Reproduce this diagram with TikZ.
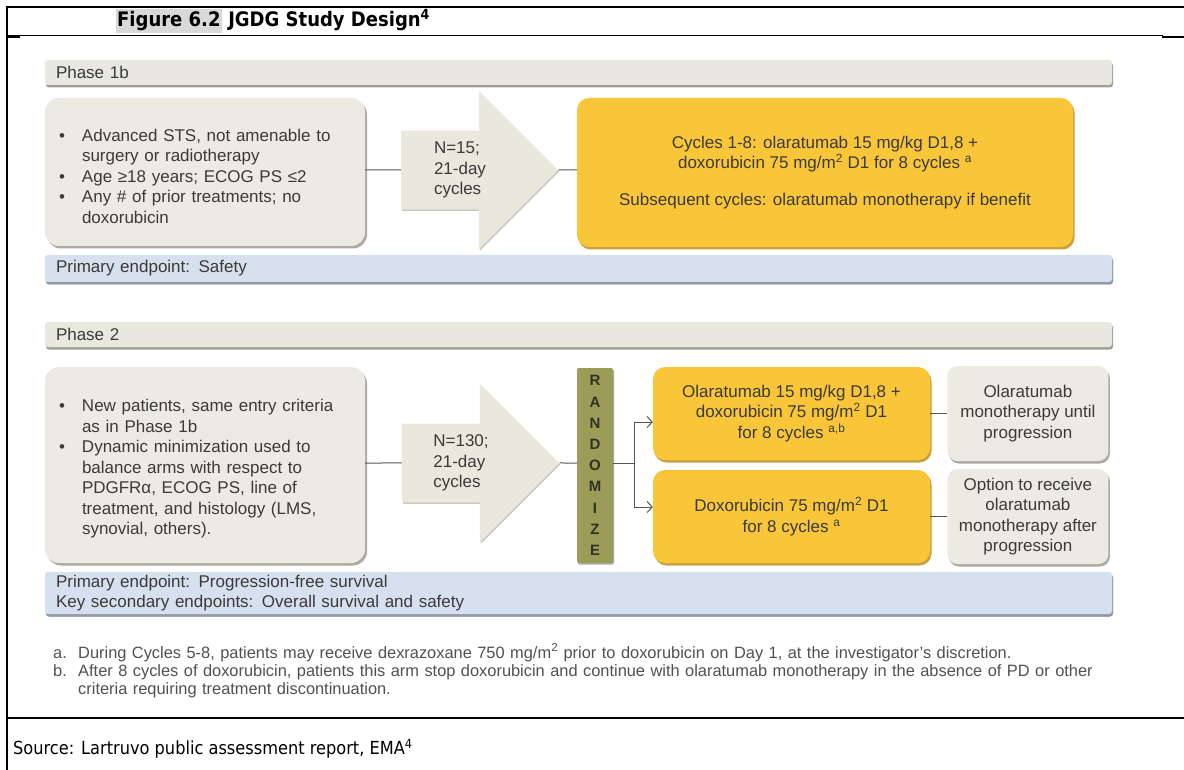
\documentclass[tikz,border=0pt]{standalone}
\usepackage{fontspec}
\setmainfont{Liberation Sans}
\newfontfamily\capfont[FakeStretch=0.9]{DejaVu Sans}
\usepackage{tikz}
\usetikzlibrary{arrows.meta,positioning,shapes.arrows,shadows}
\definecolor{PhaseGray}{RGB}{233,232,224}
\definecolor{BoxBeige}{RGB}{236,234,226}
\definecolor{ArrowBeige}{RGB}{234,232,220}
\definecolor{ShadeGray}{RGB}{150,149,140}
\definecolor{ArmYellow}{RGB}{249,198,58}
\definecolor{ArmShade}{RGB}{196,150,40}
\definecolor{RandOlive}{RGB}{156,155,88}
\definecolor{RandText}{RGB}{50,50,36}
\definecolor{EndBlue}{RGB}{214,224,238}
\definecolor{EndShade}{RGB}{142,154,174}
\definecolor{TxtGray}{RGB}{58,58,58}
\definecolor{NoteGray}{RGB}{80,80,80}
\definecolor{LinkGray}{RGB}{85,85,85}
\definecolor{HiliteGray}{RGB}{217,217,217}

\newcommand{\critem}[1]{\par\hangindent=24pt\hangafter=1\noindent\makebox[24pt][l]{\hspace{1pt}\textbullet}#1\par}
\newcommand{\fnitem}[2]{\par\hangindent=25pt\hangafter=1\noindent\makebox[25pt][l]{#1}#2\par}

\begin{document}
\begin{tikzpicture}[x=1pt, y=-1pt,
    bar/.style={rectangle, rounded corners=3pt, fill=PhaseGray, text=TxtGray,
        font=\fontsize{17}{20.5}\selectfont, text width=1045pt, inner xsep=11pt,
        inner ysep=0pt, minimum height=25pt, align=left,
        drop shadow={shadow xshift=1pt, shadow yshift=-2.5pt, fill=ShadeGray, opacity=0.9}},
    endbar/.style={bar, fill=EndBlue,
        drop shadow={shadow xshift=1pt, shadow yshift=-2.5pt, fill=EndShade, opacity=0.9}},
    crit/.style={rectangle, rounded corners=14pt, fill=BoxBeige, text=TxtGray,
        font=\fontsize{17}{20.5}\selectfont, text width=294pt, inner xsep=13pt,
        minimum width=320pt, align=left,
        drop shadow={shadow xshift=2pt, shadow yshift=-2.5pt, fill=ShadeGray, opacity=0.8}},
    cyclearrow/.style={single arrow, fill=ArrowBeige, text=TxtGray, align=left,
        font=\fontsize{17}{20.5}\selectfont, inner xsep=3pt, inner ysep=11pt,
        minimum height=157pt, single arrow head extend=40pt,
        drop shadow={shadow xshift=1pt, shadow yshift=-1.5pt, fill=ShadeGray, opacity=0.5}},
    arm/.style={rectangle, rounded corners=12pt, fill=ArmYellow, text=TxtGray, align=center,
        font=\fontsize{17}{20.5}\selectfont, inner sep=3pt,
        drop shadow={shadow xshift=1.5pt, shadow yshift=-2.5pt, fill=ArmShade, opacity=0.9}},
    post/.style={rectangle, rounded corners=10pt, fill=BoxBeige, text=TxtGray, align=center,
        font=\fontsize{17}{20.5}\selectfont, inner sep=3pt, minimum width=161pt, minimum height=95pt,
        drop shadow={shadow xshift=1.5pt, shadow yshift=-2.5pt, fill=ShadeGray, opacity=0.8}},
    rand/.style={rectangle, rounded corners=2pt, fill=RandOlive, text=RandText, align=center,
        font=\fontsize{15}{21.2}\selectfont\bfseries, minimum width=36pt, minimum height=195pt,
        inner sep=0pt,
        drop shadow={shadow xshift=1pt, shadow yshift=-1.5pt, fill=ShadeGray, opacity=0.8}},
    link/.style={draw=LinkGray, line width=1pt},
    fork/.style={link, -{Straight Barb[length=5pt, width=11pt]}},
    caption/.style={font=\capfont\bfseries\fontsize{20}{22}\selectfont, inner ysep=0pt}]
  \useasboundingbox (0,0) rectangle (1184,770);

  % table frame
  \draw[line width=2pt] (7,7) -- (1184,7);
  \draw[line width=2pt] (7,6) -- (7,770);
  \draw[line width=1pt] (7,36) -- (1163,36);
  \draw[line width=2pt] (7,37) -- (20,37);
  \draw[line width=2pt] (1162,37) -- (1184,37);
  \draw[line width=2pt] (7,718) -- (1184,718);

  % caption
  \node[caption, anchor=west, fill=HiliteGray, inner xsep=1pt, minimum height=24pt] (figno) at (116,21.5) {Figure 6.2};
  \node[caption, anchor=base west, inner xsep=0pt] (figttl) at (figno.base east) {\ JGDG Study Design\textsuperscript{4}};

  % phase 1b
  \node[bar] (ph1) at (578.5,72.5) {Phase 1b};
  \node[crit, minimum height=148pt] (crit1) at (205,172) {%
    \critem{Advanced STS, not amenable to\newline surgery or radiotherapy}%
    \critem{Age ≥18 years; ECOG PS ≤2}%
    \critem{Any \# of prior treatments; no\newline doxorubicin}};
  \node[cyclearrow] (arr1) at (460,170) {N=15;\\21-day\\cycles};
  \node[arm, minimum width=496pt, minimum height=149pt] (cyc1) at (825,172.5)
    {Cycles 1-8: olaratumab 15 mg/kg D1,8 +\\doxorubicin 75 mg/m\textsuperscript{2} D1 for 8 cycles \textsuperscript{a}\\[16pt]Subsequent cycles: olaratumab monotherapy if benefit};
  \node[endbar, minimum height=27pt] (end1) at (578.5,268.5) {Primary endpoint:\enspace Safety};

  \draw[link] (crit1.east |- arr1) -- (arr1);
  \draw[link] (arr1) -- (cyc1.west |- arr1);

  % phase 2
  \node[bar] (ph2) at (578.5,334.5) {Phase 2};
  \node[crit, minimum height=196pt] (crit2) at (205,465) {%
    \critem{New patients, same entry criteria\newline as in Phase 1b}%
    \critem{Dynamic minimization used to\newline balance arms with respect to\newline PDGFRα, ECOG PS, line of\newline treatment, and histology (LMS,\newline synovial, others).}};
  \node[cyclearrow] (arr2) at (461,463) {N=130;\\21-day\\cycles};
  \node[rand] (rand) at (595,465.5) {R\\A\\N\\D\\O\\M\\I\\Z\\E};
  \node[arm, minimum width=277pt, minimum height=93pt] (arm1) at (791.5,413.5)
    {Olaratumab 15 mg/kg D1,8 +\\doxorubicin 75 mg/m\textsuperscript{2} D1\\for 8 cycles \textsuperscript{a,b}};
  \node[arm, minimum width=277pt, minimum height=93pt] (arm2) at (791.5,516.5)
    {Doxorubicin 75 mg/m\textsuperscript{2} D1\\for 8 cycles \textsuperscript{a}};
  \node[post, right=17pt of arm1] (post1) {Olaratumab\\monotherapy until\\progression};
  \node[post, right=17pt of arm2] (post2) {Option to receive\\olaratumab\\monotherapy after\\progression};
  \node[endbar, minimum height=42pt] (end2) at (578.5,593)
    {Primary endpoint:\enspace Progression-free survival\\Key secondary endpoints:\enspace Overall survival and safety};

  \draw[link] (crit2.east |- arr2) -- (arr2);
  \draw[link] (arr2) -- (rand.west |- arr2);
  \draw[fork] (rand.east |- arr2) -- ++(21,0) |- ([yshift=-8.5pt]arm1.west);
  \draw[fork] (rand.east |- arr2) -- ++(21,0) |- ([yshift=9.5pt]arm2.west);
  \draw[link] (arm1) -- (post1);
  \draw[link] (arm2) -- (post2);

  % footnotes and source
  \node[anchor=north west, text=NoteGray, text width=1100pt, align=left, inner sep=0pt,
    font=\fontsize{16.4}{18}\selectfont] (notes) at (53,640) {%
    \fnitem{a.}{During Cycles 5-8, patients may receive dexrazoxane 750 mg/m\textsuperscript{2} prior to doxorubicin on Day 1, at the investigator's discretion.}%
    \fnitem{b.}{After 8 cycles of doxorubicin, patients this arm stop doxorubicin and continue with olaratumab monotherapy in the absence of PD or other\newline criteria requiring treatment discontinuation.}};
  \node[anchor=west, inner sep=0pt, font=\capfont\fontsize{18}{20}\selectfont] (src) at (13,749)
    {Source: Lartruvo public assessment report, EMA\textsuperscript{4}};
\end{tikzpicture}
\end{document}
